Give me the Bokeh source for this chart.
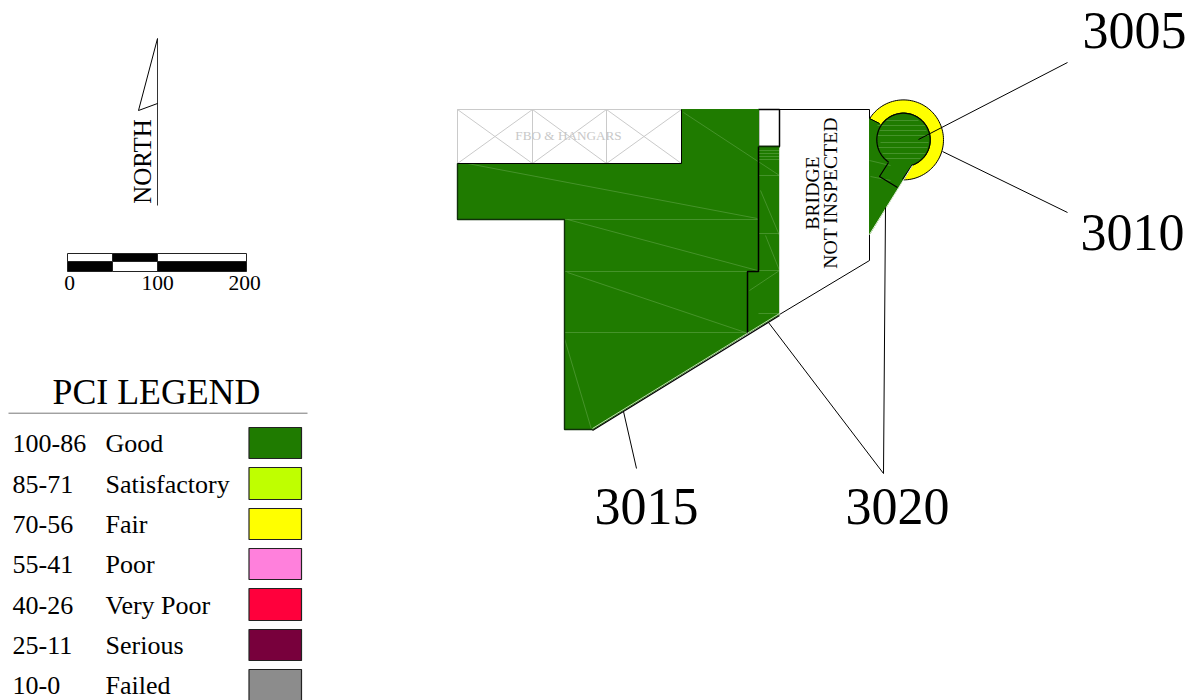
import numpy as np
from bokeh.plotting import figure
from bokeh.models import Range1d
from bokeh.core.properties import value
from bokeh.embed import file_html
from bokeh.resources import INLINE

GREEN = "#1f7b00"
SERIF = value("Liberation Serif")
BASE_SHIFT = 0.38  # alphabetic baseline correction, in em

# --- map outlines (screen pixels of the drawing)
main_x = [681, 758, 758, 747, 747, 592, 564, 564, 457, 457, 681]
main_y = [109, 109, 271, 271, 333, 429, 429, 219, 219, 163, 163]
strip_x = [758, 779, 779, 747, 747, 758]
strip_y = [147, 147, 314, 333, 271, 271]
box_x = [758, 779, 779, 758]
box_y = [109, 109, 146, 146]
bridge_x = [779, 869, 869, 779]
bridge_y = [109, 109, 260, 314]
hangar_cols = [457, 532, 606, 681]
hangar_top, hangar_bottom = 109, 163
circle_cx, circle_cy, ring_r, inner_r = 903, 139.4, 40, 26.7

# faint seams in the pavement
seam_x0 = [467, 564, 567, 564, 567, 564, 564, 683, 758, 758, 758, 758, 758, 758, 758, 758, 760, 765, 779, 869, 870, 877, 879, 877, 880, 878, 882, 885, 884]
seam_y0 = [163, 219, 219, 271, 272, 332, 338, 112, 150, 153, 156, 159, 175, 233, 270, 313, 190, 235, 270, 160, 176, 125, 130, 135, 142, 147, 153, 158, 120]
seam_x1 = [757, 758, 757, 747, 745, 747, 591, 779, 779, 779, 779, 779, 779, 779, 779, 779, 779, 779, 749, 890, 890, 925, 926, 928, 928, 927, 925, 920, 918]
seam_y1 = [218, 219, 270, 271, 332, 332, 429, 175, 150, 153, 156, 159, 175, 233, 270, 313, 235, 270, 290, 165, 180, 125, 130, 135, 142, 147, 153, 158, 120]

# leaders
lead_x0 = [1067, 1067, 636, 883, 883]
lead_y0 = [62, 212, 468, 473, 473]
lead_x1 = [918, 942, 623, 768, 885]
lead_y1 = [139, 151, 411, 322, 207]

callouts = ["3005", "3010", "3015", "3020"]
callout_x = [1082, 1080, 594, 845]
callout_y = [50, 252, 526, 526]

# north arrow and scale bar
north_x = [157, 138, 157]
north_y = [38, 110, 103]
scale_left = [67, 112, 157]
scale_right = [112, 157, 246]
scale_top_colors = ["white", "black", "white"]
scale_bottom_colors = ["black", "white", "black"]
scale_labels = ["0", "100", "200"]
scale_label_x = [69, 157, 244]

# legend
pci_ranges = ["100-86", "85-71", "70-56", "55-41", "40-26", "25-11", "10-0"]
pci_names = ["Good", "Satisfactory", "Fair", "Poor", "Very Poor", "Serious", "Failed"]
pci_colors = [GREEN, "#bfff00", "#ffff00", "#ff80dc", "#ff003c", "#78003c", "#8c8c8c"]
row_baseline = [453, 494, 534, 574, 615, 655, 695]
swatch_top = [427, 467, 508, 548, 588, 629, 669]
swatch_bottom = [458, 499, 539, 579, 620, 660, 701]


def arc(r, a0, a1, n=80):
    t = np.radians(np.linspace(a0, a1, n))
    return list(circle_cx + r * np.cos(t)), list(circle_cy + r * np.sin(t))


def label(xs, ys, texts, size, align="left", color="black", angle=0.0):
    shift = BASE_SHIFT * size
    if angle:
        xs = [x - shift for x in xs]
    else:
        ys = [y - shift for y in ys]
    p.text(xs, ys, text=texts, text_font=SERIF, text_font_size=f"{size}px", text_color=color,
           text_align=align, text_baseline="alphabetic", angle=angle)


p = figure(width=1199, height=700, x_range=Range1d(0, 1199), y_range=Range1d(700, 0),
           output_backend="svg", toolbar_location=None, x_axis_type=None, y_axis_type=None,
           min_border=0, outline_line_color=None, background_fill_color="white")
p.grid.visible = False

# hangars
for c0, c1 in zip(hangar_cols[:-1], hangar_cols[1:]):
    p.line([c0, c1, c1, c0, c0, c1], [hangar_top, hangar_bottom, hangar_top, hangar_bottom, hangar_top, hangar_top],
           line_color="#cacaca", line_width=1)
p.line([457, 681], [163, 163], line_color="#cacaca", line_width=1)
p.line([457, 457], [109, 163], line_color="#cacaca", line_width=1)
label([568], [140], ["FBO & HANGARS"], 13.2, align="center", color="#c8c8c8")

# bridge and small box
p.patch(bridge_x, bridge_y, fill_color="white", line_color="black", line_width=1)
p.patch(box_x, box_y, fill_color="white", line_color="black", line_width=1.5)
label([819, 837], [192.5, 192.5], ["BRIDGE", "NOT INSPECTED"], 19.7, align="center", angle=np.pi / 2)

# circle section
ox, oy = arc(ring_r, 212, 450)
ix, iy = arc(inner_r, 431, 212)
p.patch(ox + [912] + ix[1:], oy + [164] + iy[1:], fill_color="#ffff00", line_color="black", line_width=1)
gx, gy = arc(inner_r, 212, 431)
p.patch([869, 879] + gx + [869], [118, 123] + gy + [234], fill_color=GREEN, line_color=GREEN, line_width=1)

# pavement
p.patch(strip_x, strip_y, fill_color=GREEN, line_color=GREEN, line_width=1)
p.patch(main_x, main_y, fill_color=GREEN, line_color=GREEN, line_width=1)
p.segment(seam_x0, seam_y0, seam_x1, seam_y1, line_color="#6aa850", line_width=0.7, line_alpha=0.75)

# black outlines
p.line([681, 681, 457], [109, 163, 163], line_color="black", line_width=1)
p.line([457, 457, 564, 564, 592], [163, 219, 219, 429, 429], line_color="#10300a", line_width=1.4)
p.line([758, 758, 747, 747], [146, 271, 271, 333], line_color="black", line_width=1.5)
p.line([758, 779], [146, 146], line_color="#0a2a00", line_width=1.5)
p.line([592, 779], [430, 315], line_color="black", line_width=1.2)
p.line([592, 779], [428, 313], line_color="#e8f2e0", line_width=0.8)
p.line([779, 779], [147, 314], line_color="#d0dccb", line_width=1)
ax, ay = arc(inner_r, 124, 431)
p.line(ax + [902], ay + [179], line_color="black", line_width=1.2)
p.line([888, 879, 897], [162, 176, 187], line_color="black", line_width=1.2)
p.line([869, 879], [118, 123], line_color="black", line_width=1)
p.line([912, 869], [165, 234], line_color="#e8f2e0", line_width=1)

# leaders
p.segment(lead_x0, lead_y0, lead_x1, lead_y1, line_color="black", line_width=1)
label(callout_x, callout_y, callouts, 52)

# north arrow
p.line([157, 157], [38, 205], line_color="#333333", line_width=1)
p.line(north_x, north_y, line_color="black", line_width=1)
label([151], [161], ["NORTH"], 25, align="center", angle=np.pi / 2)

# scale bar
p.quad(left=scale_left, right=scale_right, top=[253] * 3, bottom=[261] * 3, fill_color=scale_top_colors,
       line_color="#222222", line_width=1)
p.quad(left=scale_left, right=scale_right, top=[261] * 3, bottom=[271] * 3, fill_color=scale_bottom_colors,
       line_color="#222222", line_width=1)
label(scale_label_x, [291] * 3, scale_labels, 21.5, align="center")

# legend
label([52], [405], ["PCI LEGEND"], 35.8)
p.line([8, 307], [412.7, 412.7], line_color="#777777", line_width=1)
label([12] * 7, row_baseline, pci_ranges, 26)
label([105] * 7, row_baseline, pci_names, 26)
p.quad(left=[248.5] * 7, right=[301] * 7, top=swatch_top, bottom=swatch_bottom, fill_color=pci_colors,
       line_color="#222222", line_width=1.2)

open("out.html", "w").write(file_html(p, INLINE))
